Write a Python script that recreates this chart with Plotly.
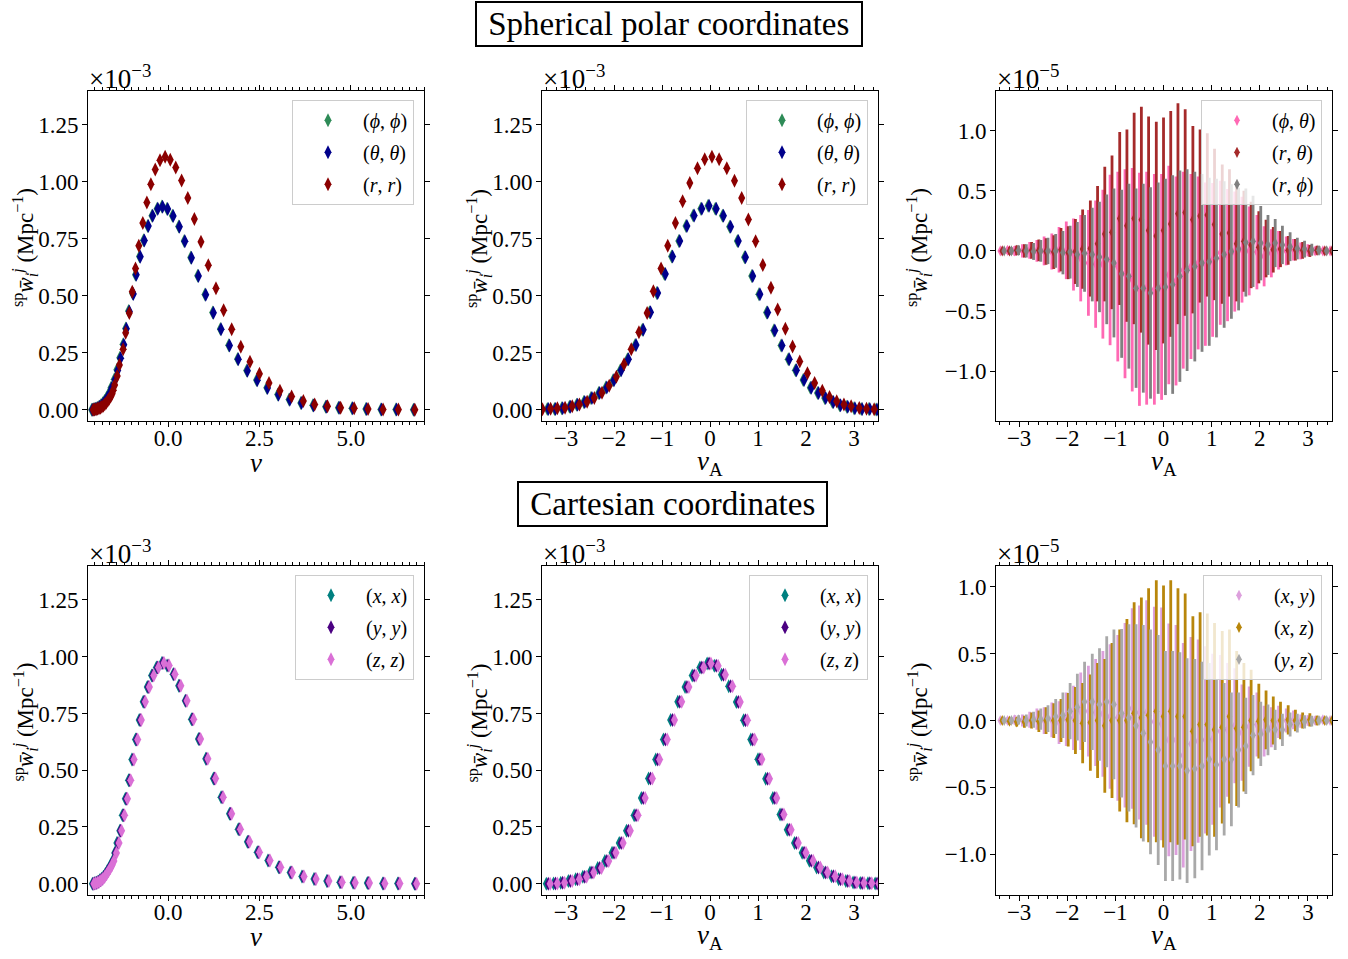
import plotly.graph_objects as go

# ---------------- data (values in units of the axis multiplier) ----------------
# Top-left: spherical diagonal vs nu
sp_nu_phph = [-2.09,-2.04,-1.99,-1.94,-1.89,-1.84,-1.79,-1.74,-1.69,-1.64,-1.60,-1.56,-1.47,-1.40,-1.32,-1.23,-1.16,-1.08,-0.97,-0.89,-0.78,-0.67,-0.56,-0.44,-0.30,-0.17,-0.03,0.12,0.29,0.44,0.62,0.81,1.01,1.22,1.43,1.66,1.90,2.15,2.42,2.70,3.00,3.31,3.63,3.96,4.31,4.66,5.03,5.41,5.82,6.23,6.71]
sp_w_phph = [0.0,0.002,0.004,0.008,0.013,0.02,0.028,0.038,0.05,0.064,0.078,0.097,0.134,0.175,0.228,0.287,0.357,0.433,0.51,0.593,0.673,0.744,0.806,0.852,0.882,0.892,0.882,0.851,0.804,0.741,0.668,0.588,0.506,0.427,0.354,0.283,0.223,0.172,0.13,0.096,0.067,0.045,0.03,0.02,0.013,0.009,0.006,0.003,0.0015,0.001,0.0]
sp_nu_thth = [-2.07,-2.02,-1.97,-1.92,-1.87,-1.82,-1.77,-1.72,-1.67,-1.62,-1.58,-1.54,-1.45,-1.38,-1.30,-1.21,-1.14,-1.06,-0.95,-0.87,-0.76,-0.65,-0.54,-0.42,-0.28,-0.15,-0.01,0.14,0.31,0.46,0.64,0.83,1.03,1.24,1.45,1.68,1.92,2.17,2.44,2.72,3.02,3.33,3.65,3.98,4.33,4.68,5.05,5.43,5.84,6.25,6.73]
sp_w_thth = [0.0,0.002,0.004,0.008,0.013,0.019,0.027,0.037,0.049,0.062,0.076,0.095,0.132,0.172,0.226,0.285,0.355,0.431,0.508,0.592,0.672,0.743,0.806,0.851,0.882,0.891,0.881,0.850,0.803,0.74,0.667,0.587,0.505,0.426,0.353,0.282,0.222,0.171,0.129,0.095,0.066,0.044,0.029,0.019,0.013,0.009,0.006,0.003,0.0015,0.001,0.0]
sp_nu_rr = [-2.05,-2.01,-1.97,-1.93,-1.89,-1.85,-1.81,-1.77,-1.73,-1.69,-1.65,-1.61,-1.57,-1.53,-1.50,-1.46,-1.39,-1.33,-1.23,-1.16,-1.06,-0.98,-0.89,-0.80,-0.69,-0.58,-0.47,-0.35,-0.22,-0.08,0.06,0.21,0.37,0.54,0.72,0.90,1.10,1.31,1.52,1.74,1.99,2.24,2.50,2.76,3.06,3.38,3.70,4.01,4.36,4.72,5.09,5.47,5.88,6.30,6.75]
sp_w_rr = [0.0,0.001,0.002,0.004,0.006,0.009,0.013,0.018,0.024,0.031,0.039,0.048,0.058,0.070,0.085,0.109,0.148,0.196,0.265,0.338,0.425,0.518,0.62,0.72,0.82,0.91,0.99,1.055,1.095,1.11,1.097,1.063,1.006,0.93,0.837,0.737,0.634,0.533,0.437,0.353,0.277,0.211,0.158,0.117,0.083,0.058,0.038,0.023,0.015,0.009,0.006,0.003,0.0015,0.001,0.0]

# nu_A grids
nuA_lo = [-3.39,-3.24,-3.09,-2.93,-2.78,-2.63,-2.48,-2.32,-2.17,-2.02,-1.87,-1.72,-1.56,-1.41,-1.26,-1.11,-0.95,-0.80,-0.65,-0.50,-0.35,-0.19,-0.04,0.11,0.26,0.41,0.57,0.72,0.87,1.02,1.18,1.33,1.48,1.63,1.78,1.94,2.09,2.24,2.39,2.55,2.70,2.85,3.00,3.15,3.31,3.46]
nuA_mid = [-3.37,-3.22,-3.07,-2.91,-2.76,-2.61,-2.46,-2.30,-2.15,-2.00,-1.85,-1.70,-1.54,-1.39,-1.24,-1.09,-0.93,-0.78,-0.63,-0.48,-0.33,-0.17,-0.02,0.13,0.28,0.43,0.59,0.74,0.89,1.04,1.20,1.35,1.50,1.65,1.80,1.96,2.11,2.26,2.41,2.57,2.72,2.87,3.02,3.17,3.33,3.48]
nuA_hi = [-3.35,-3.20,-3.05,-2.89,-2.74,-2.59,-2.44,-2.28,-2.13,-1.98,-1.83,-1.68,-1.52,-1.37,-1.22,-1.07,-0.91,-0.76,-0.61,-0.46,-0.31,-0.15,0.00,0.15,0.30,0.45,0.61,0.76,0.91,1.06,1.22,1.37,1.52,1.67,1.82,1.98,2.13,2.28,2.43,2.59,2.74,2.89,3.04,3.19,3.35,3.50]
nuA_far = [-3.31,-3.16,-3.01,-2.85,-2.70,-2.55,-2.40,-2.24,-2.09,-1.94,-1.79,-1.64,-1.48,-1.33,-1.18,-1.03,-0.87,-0.72,-0.57,-0.42,-0.27,-0.11,0.04,0.19,0.34,0.49,0.65,0.80,0.95,1.10,1.26,1.41,1.56,1.71,1.86,2.02,2.17,2.32,2.47,2.63,2.78,2.93,3.08,3.23,3.39,3.54]
nuA_m4 = [-3.41,-3.26,-3.11,-2.95,-2.80,-2.65,-2.50,-2.34,-2.19,-2.04,-1.89,-1.74,-1.58,-1.43,-1.28,-1.13,-0.97,-0.82,-0.67,-0.52,-0.37,-0.21,-0.06,0.09,0.24,0.39,0.55,0.70,0.85,1.00,1.16,1.31,1.46,1.61,1.76,1.92,2.07,2.22,2.37,2.53,2.68,2.83,2.98,3.13,3.29,3.44]
nuA_p4 = [-3.33,-3.18,-3.03,-2.87,-2.72,-2.57,-2.42,-2.26,-2.11,-1.96,-1.81,-1.66,-1.50,-1.35,-1.20,-1.05,-0.89,-0.74,-0.59,-0.44,-0.29,-0.13,0.02,0.17,0.32,0.47,0.63,0.78,0.93,1.08,1.24,1.39,1.54,1.69,1.84,2.00,2.15,2.30,2.45,2.61,2.76,2.91,3.06,3.21,3.37,3.52]
nuA_rr = [-3.49,-3.32,-3.18,-3.02,-2.87,-2.72,-2.56,-2.41,-2.25,-2.10,-1.95,-1.79,-1.64,-1.48,-1.31,-1.18,-1.02,-0.88,-0.72,-0.57,-0.42,-0.26,-0.11,0.04,0.19,0.35,0.51,0.66,0.80,0.95,1.10,1.27,1.41,1.57,1.72,1.87,2.03,2.18,2.34,2.49,2.64,2.79,2.94,3.11,3.26,3.42]

# Top-middle: spherical diagonal vs nu_A
spA_w_diag = [0.003,0.003,0.007,0.013,0.022,0.034,0.051,0.073,0.098,0.129,0.173,0.222,0.284,0.351,0.428,0.512,0.596,0.673,0.741,0.807,0.853,0.882,0.895,0.882,0.851,0.803,0.741,0.669,0.587,0.507,0.427,0.348,0.282,0.222,0.173,0.130,0.096,0.073,0.051,0.034,0.020,0.013,0.007,0.003,0.003,0.001]
spA_w_rr = [0.002,0.004,0.006,0.009,0.015,0.023,0.035,0.052,0.075,0.105,0.145,0.20,0.265,0.34,0.425,0.52,0.62,0.72,0.82,0.915,0.995,1.06,1.10,1.11,1.10,1.06,1.005,0.93,0.835,0.74,0.635,0.535,0.44,0.355,0.278,0.212,0.16,0.117,0.083,0.056,0.037,0.023,0.015,0.008,0.004,0.002]

# Top-right: spherical off-diagonal (x1e-5)
sp_w_phth = [0.0,0.005,0.0,0.0,0.005,0.0,0.0,-0.005,0.01,0.005,-0.03,-0.06,-0.10,-0.11,-0.11,-0.075,-0.13,-0.19,-0.24,-0.32,-0.31,-0.32,-0.30,-0.20,-0.25,-0.16,-0.13,-0.10,-0.11,-0.075,-0.015,-0.035,-0.005,0.01,0.0,-0.01,-0.045,-0.02,0.005,0.0,0.01,0.0,0.005,0.0,0.0,0.0]
sp_e_phth = [0.02,0.03,0.04,0.055,0.07,0.09,0.12,0.15,0.19,0.24,0.30,0.36,0.44,0.53,0.62,0.71,0.79,0.87,0.93,0.97,0.97,0.96,0.94,0.91,0.87,0.82,0.77,0.72,0.68,0.64,0.60,0.55,0.50,0.44,0.37,0.31,0.25,0.20,0.16,0.12,0.09,0.07,0.05,0.035,0.025,0.02]
sp_w_rth = [0.0,0.0,0.005,0.0,0.005,0.005,-0.005,-0.01,0.01,-0.015,-0.005,0.015,0.02,0.06,0.14,0.155,0.27,0.21,0.27,0.26,0.17,0.125,0.17,0.225,0.31,0.32,0.26,0.29,0.30,0.22,0.14,0.15,0.06,0.08,0.05,0.03,0.02,0.01,0.015,0.005,0.01,0.005,0.0,0.005,0.0,0.0]
sp_e_rth = [0.02,0.03,0.04,0.055,0.07,0.09,0.11,0.14,0.18,0.22,0.27,0.33,0.40,0.48,0.56,0.64,0.72,0.80,0.88,0.94,0.95,0.95,0.94,0.94,0.92,0.86,0.78,0.72,0.68,0.63,0.58,0.53,0.48,0.42,0.36,0.30,0.24,0.19,0.15,0.12,0.09,0.07,0.05,0.035,0.025,0.02]
sp_w_rph = [0.0,0.0,0.005,0.0,-0.005,0.0,0.0,0.0,-0.015,-0.01,-0.03,-0.02,-0.03,-0.05,-0.07,-0.10,-0.19,-0.21,-0.31,-0.31,-0.35,-0.31,-0.30,-0.28,-0.21,-0.16,-0.13,-0.10,-0.09,-0.06,-0.03,-0.005,0.015,0.07,0.08,0.065,0.05,0.065,0.05,0.035,0.02,0.015,0.01,0.005,0.0,0.0]
sp_e_rph = [0.02,0.03,0.04,0.055,0.07,0.09,0.11,0.14,0.18,0.22,0.27,0.32,0.39,0.46,0.54,0.62,0.70,0.77,0.83,0.87,0.88,0.88,0.90,0.91,0.88,0.84,0.79,0.74,0.70,0.66,0.61,0.56,0.51,0.45,0.38,0.31,0.25,0.20,0.16,0.12,0.09,0.07,0.05,0.035,0.025,0.02]

# Bottom-left: Cartesian diagonal vs nu
ca_nu_xx = [-2.07,-2.02,-1.97,-1.92,-1.87,-1.82,-1.77,-1.72,-1.67,-1.62,-1.57,-1.52,-1.46,-1.40,-1.32,-1.25,-1.17,-1.08,-0.99,-0.89,-0.79,-0.68,-0.57,-0.45,-0.32,-0.17,-0.03,0.14,0.29,0.47,0.64,0.83,1.03,1.24,1.45,1.68,1.92,2.17,2.44,2.73,3.02,3.34,3.66,3.99,4.34,4.70,5.06,5.45,5.87,6.28,6.74]
ca_nu_yy = [-2.05,-2.00,-1.95,-1.90,-1.85,-1.80,-1.75,-1.70,-1.65,-1.60,-1.55,-1.50,-1.44,-1.37,-1.30,-1.22,-1.14,-1.05,-0.96,-0.86,-0.76,-0.65,-0.54,-0.42,-0.29,-0.14,0.00,0.16,0.32,0.49,0.67,0.86,1.06,1.27,1.48,1.71,1.95,2.20,2.47,2.76,3.05,3.37,3.69,4.02,4.37,4.73,5.09,5.48,5.90,6.31,6.76]
ca_nu_zz = [-2.03,-1.98,-1.93,-1.88,-1.83,-1.78,-1.73,-1.68,-1.63,-1.58,-1.53,-1.48,-1.41,-1.34,-1.27,-1.19,-1.11,-1.02,-0.93,-0.83,-0.73,-0.62,-0.51,-0.39,-0.26,-0.11,0.03,0.19,0.35,0.52,0.70,0.89,1.09,1.30,1.51,1.74,1.98,2.23,2.50,2.79,3.08,3.40,3.72,4.05,4.40,4.76,5.12,5.51,5.93,6.34,6.80]
ca_w_diag = [0.0,0.002,0.005,0.009,0.015,0.022,0.031,0.042,0.055,0.068,0.083,0.10,0.136,0.18,0.234,0.302,0.374,0.456,0.547,0.635,0.721,0.802,0.866,0.917,0.952,0.972,0.961,0.923,0.872,0.806,0.724,0.637,0.551,0.463,0.381,0.308,0.24,0.185,0.139,0.103,0.073,0.05,0.032,0.021,0.012,0.007,0.004,0.003,0.0015,0.001,0.0]

# Bottom-middle: Cartesian diagonal vs nu_A
caA_w_diag = [0.0,0.001,0.004,0.012,0.02,0.031,0.05,0.07,0.10,0.137,0.18,0.234,0.302,0.378,0.463,0.547,0.635,0.721,0.802,0.866,0.917,0.952,0.97,0.96,0.92,0.87,0.80,0.72,0.635,0.548,0.462,0.378,0.305,0.238,0.18,0.137,0.101,0.072,0.05,0.033,0.02,0.012,0.006,0.003,0.002,0.001]

# Bottom-right: Cartesian off-diagonal (x1e-5)
ca_w_xy = [0.0,0.0,0.005,0.0,0.005,0.01,0.0,0.005,-0.015,0.01,0.02,0.07,0.07,0.06,0.05,0.03,0.02,0.04,0.09,0.06,0.06,-0.01,-0.025,-0.145,-0.145,-0.26,-0.175,-0.155,-0.145,-0.14,-0.08,-0.07,-0.04,-0.09,-0.045,-0.03,-0.08,-0.05,-0.01,0.0,0.005,-0.005,0.0,0.0,0.005,0.0]
ca_e_xy = [0.02,0.025,0.035,0.045,0.06,0.08,0.10,0.13,0.16,0.20,0.24,0.29,0.34,0.40,0.47,0.54,0.62,0.69,0.75,0.80,0.84,0.86,0.87,0.87,0.86,0.84,0.80,0.76,0.70,0.64,0.57,0.50,0.43,0.36,0.30,0.24,0.19,0.15,0.12,0.09,0.07,0.05,0.04,0.03,0.025,0.02]
ca_w_xz = [0.0,-0.005,-0.01,-0.01,0.0,-0.005,0.0,0.0,0.0,0.005,0.0,-0.02,-0.015,0.0,-0.04,0.0,0.0,0.0,0.055,0.02,0.04,0.07,0.03,0.07,0.03,0.03,-0.08,-0.03,-0.03,-0.07,-0.05,0.03,-0.06,-0.05,0.0,-0.005,0.005,0.0,0.0,0.005,0.0,0.0,0.005,0.0,0.0,0.0]
ca_e_xz = [0.02,0.025,0.035,0.045,0.06,0.08,0.10,0.13,0.16,0.20,0.25,0.30,0.36,0.43,0.50,0.58,0.68,0.76,0.83,0.90,0.95,0.98,0.98,0.98,0.96,0.92,0.86,0.84,0.83,0.80,0.72,0.65,0.58,0.48,0.38,0.28,0.22,0.18,0.14,0.11,0.08,0.06,0.05,0.035,0.025,0.02]
ca_w_yz = [0.0,0.0,0.005,0.0,0.005,0.01,0.015,0.03,0.04,0.07,0.10,0.14,0.14,0.12,0.14,0.12,0.055,0.02,-0.04,-0.095,-0.16,-0.22,-0.34,-0.34,-0.34,-0.375,-0.36,-0.34,-0.29,-0.33,-0.29,-0.29,-0.22,-0.19,-0.11,-0.10,-0.07,-0.07,-0.07,-0.03,-0.02,-0.01,-0.005,0.0,0.0,0.0]
ca_e_yz = [0.02,0.025,0.035,0.045,0.06,0.08,0.10,0.13,0.17,0.21,0.25,0.30,0.36,0.42,0.49,0.56,0.63,0.70,0.76,0.81,0.84,0.86,0.86,0.86,0.85,0.84,0.82,0.78,0.72,0.64,0.57,0.50,0.43,0.36,0.30,0.24,0.19,0.15,0.12,0.09,0.07,0.05,0.04,0.03,0.025,0.02]

# ---------------- layout helpers ----------------
W, H = 1348, 959
FONT = "Liberation Serif"
def fx(px): return px / W
def fy(py): return 1 - py / H

cols = [(88, 424), (542, 878), (996, 1332)]
rows = [(91, 422), (567, 897)]

fig = go.Figure()

def add(panel, x, y, name, color, err=None, size=10):
    assert len(x) == len(y), (name, len(x), len(y))
    if err is not None:
        assert len(err) == len(y), (name, len(err))
        ey = dict(type="data", array=err, color=color, thickness=2.8, width=0)
    else:
        ey = dict(type="constant", value=0.016, color=color, thickness=1.5, width=0)
    sfx = "" if panel == 1 else str(panel)
    fig.add_trace(go.Scatter(
        x=x, y=y, mode="markers", name=name,
        marker=dict(symbol="diamond-tall", size=size, color=color, line=dict(width=0)),
        error_y=ey, xaxis="x" + sfx, yaxis="y" + sfx,
        legend="legend" + sfx, legendgroup=name + sfx,
    ))

L_phph = "(<i>ϕ</i>, <i>ϕ</i>)"
L_thth = "(<i>θ</i>, <i>θ</i>)"
L_rr = "(<i>r</i>, <i>r</i>)"
L_phth = "(<i>ϕ</i>, <i>θ</i>)"
L_rth = "(<i>r</i>, <i>θ</i>)"
L_rph = "(<i>r</i>, <i>ϕ</i>)"
L_xx = "(<i>x</i>, <i>x</i>)"
L_yy = "(<i>y</i>, <i>y</i>)"
L_zz = "(<i>z</i>, <i>z</i>)"
L_xy = "(<i>x</i>, <i>y</i>)"
L_xz = "(<i>x</i>, <i>z</i>)"
L_yz = "(<i>y</i>, <i>z</i>)"

C = dict(phph="#2E8B57", thth="#00008B", rr="#8B0000", phth="#FF69B4", rth="#A52A2A",
         rph="#808080", xx="#008080", yy="#4B0082", zz="#DA70D6", xy="#DDA0DD",
         xz="#B8860B", yz="#A9A9A9")

# panel 1
add(1, sp_nu_phph, sp_w_phph, L_phph, C["phph"])
add(1, sp_nu_thth, sp_w_thth, L_thth, C["thth"])
add(1, sp_nu_rr, sp_w_rr, L_rr, C["rr"])
# panel 2
add(2, nuA_lo, spA_w_diag, L_phph, C["phph"])
add(2, nuA_mid, spA_w_diag, L_thth, C["thth"])
add(2, nuA_rr, spA_w_rr, L_rr, C["rr"])
# panel 3
add(3, nuA_lo, sp_w_phth, L_phth, C["phth"], err=sp_e_phth, size=8)
add(3, nuA_hi, sp_w_rth, L_rth, C["rth"], err=sp_e_rth, size=8)
add(3, nuA_far, sp_w_rph, L_rph, C["rph"], err=sp_e_rph, size=8)
# panel 4
add(4, ca_nu_xx, ca_w_diag, L_xx, C["xx"])
add(4, ca_nu_yy, ca_w_diag, L_yy, C["yy"])
add(4, ca_nu_zz, ca_w_diag, L_zz, C["zz"])
# panel 5
add(5, nuA_m4, caA_w_diag, L_xx, C["xx"])
add(5, nuA_mid, caA_w_diag, L_yy, C["yy"])
add(5, nuA_p4, caA_w_diag, L_zz, C["zz"])
# panel 6
add(6, nuA_lo, ca_w_xy, L_xy, C["xy"], err=ca_e_xy, size=8)
add(6, nuA_hi, ca_w_xz, L_xz, C["xz"], err=ca_e_xz, size=8)
add(6, nuA_far, ca_w_yz, L_yz, C["yz"], err=ca_e_yz, size=8)

tickfont = dict(family=FONT, size=23, color="black")
axis_common = dict(showline=True, linecolor="black", linewidth=1, mirror="allticks",
                   ticks="outside", ticklen=5, tickwidth=1, tickcolor="black",
                   showgrid=False, zeroline=False, tickfont=tickfont, fixedrange=True)

layout = dict(width=W, height=H, margin=dict(l=0, r=0, t=0, b=0),
              paper_bgcolor="white", plot_bgcolor="white",
              font=dict(family=FONT, color="black"))

xranges = {1: [-2.19, 7.0], 2: [-3.5, 3.5], 3: [-3.48, 3.5],
           4: [-2.19, 7.0], 5: [-3.5, 3.5], 6: [-3.48, 3.5]}
yranges = {1: [-0.05, 1.4], 2: [-0.05, 1.4], 3: [-1.417, 1.333],
           4: [-0.05, 1.4], 5: [-0.05, 1.4], 6: [-1.306, 1.157]}

annotations = []
NBSP = "\u00a0"
for p in range(1, 7):
    r = (p - 1) // 3
    c = (p - 1) % 3
    x0, x1 = cols[c]
    ytop, ybot = rows[r]
    sfx = "" if p == 1 else str(p)
    minor = dict(dtick=0.2, tick0=0, ticks="outside", ticklen=2.5, tickcolor="black", tickwidth=0.8)
    if c == 0:
        xt = dict(dtick=2.5, tick0=0, tickformat=".1f", minor=minor)
    else:
        xt = dict(dtick=1, tick0=0, tickformat="d", minor=minor)
    if c == 2:
        yt = dict(dtick=0.5, tick0=0, tickformat=".1f")
    else:
        yt = dict(dtick=0.25, tick0=0, tickformat=".2f")
    layout["xaxis" + sfx] = dict(domain=[fx(x0), fx(x1)], range=xranges[p],
                                 anchor="y" + sfx, ticklabelstandoff=-9,
                                 **axis_common, **xt)
    layout["yaxis" + sfx] = dict(domain=[fy(ybot), fy(ytop)], range=yranges[p],
                                 anchor="x" + sfx, ticklabelstandoff=-1,
                                 **axis_common, **yt)
    layout["legend" + sfx] = dict(
        x=fx(x1 - 10), y=fy(ytop + 9), xanchor="right", yanchor="top",
        bgcolor="rgba(255,255,255,0.8)", bordercolor="#cccccc", borderwidth=1,
        font=dict(family=FONT, size=20, color="black"), itemwidth=60,
        tracegroupgap=3, traceorder="grouped")
    # multiplier text
    annotations.append(dict(text="×10<sup>−3</sup>" if c < 2 else "×10<sup>−5</sup>",
                            x=fx(x0 - 1), y=fy(ytop + 5), xref="paper", yref="paper",
                            xanchor="left", yanchor="bottom", showarrow=False,
                            font=dict(family=FONT, size=27, color="black")))
    # y title
    ytx = {0: 25, 1: 479, 2: 919}[c]
    annotations.append(dict(
        text="<sup>sp</sup><i>w̄</i><sub><i>i</i></sub><sup><i>j</i></sup> (Mpc<sup>−1</sup>)",
        x=fx(ytx), y=fy((ytop + ybot) / 2 - 8), xref="paper", yref="paper",
        xanchor="center", yanchor="middle", textangle=-90, showarrow=False,
        font=dict(family=FONT, size=23, color="black")))
    # x title
    annotations.append(dict(
        text="<i>ν</i>" if c == 0 else "<i>ν</i><sub>A</sub>",
        x=fx((x0 + x1) / 2), y=fy(ybot + 42), xref="paper", yref="paper",
        xanchor="center", yanchor="middle", showarrow=False,
        font=dict(family=FONT, size=27, color="black")))

annotations.append(dict(text=NBSP + "Spherical polar coordinates" + NBSP, x=fx(669), y=fy(24),
                        xref="paper", yref="paper", xanchor="center", yanchor="middle",
                        showarrow=False, bordercolor="black", borderwidth=2, borderpad=3,
                        bgcolor="white", font=dict(family=FONT, size=33, color="black")))
annotations.append(dict(text=NBSP + "Cartesian coordinates" + NBSP, x=fx(672), y=fy(505),
                        xref="paper", yref="paper", xanchor="center", yanchor="middle",
                        showarrow=False, bordercolor="black", borderwidth=2, borderpad=3,
                        bgcolor="white", font=dict(family=FONT, size=33, color="black")))
layout["annotations"] = annotations
fig.update_layout(**layout)

fig.write_html("out.html")
